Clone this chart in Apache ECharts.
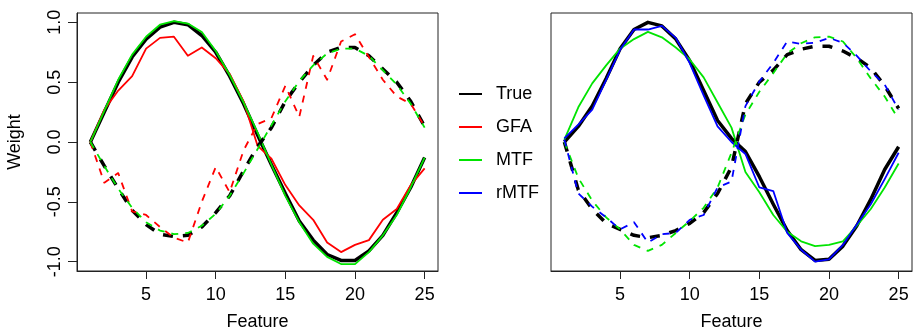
<!DOCTYPE html>
<html>
<head>
<meta charset="utf-8">
<script src="https://cdn.jsdelivr.net/npm/echarts@6/dist/echarts.min.js"></script>
<style>html,body{margin:0;padding:0;background:#fff}#c{width:913px;height:332px}</style>
</head>
<body>
<div id="c"></div>
<script>
const features = [1,2,3,4,5,6,7,8,9,10,11,12,13,14,15,16,17,18,19,20,21,22,23,24,25];
const xTicks = [5,10,15,20,25];
const yTicks = [-1,-0.5,0,0.5,1];
const yTickLabels = ['-1.0','-0.5','0.0','0.5','1.0'];
const legendNames = ['True','GFA','MTF','rMTF'];

// left panel
const trueSolidL = [0,0.25,0.50,0.71,0.86,0.96,1.0,0.98,0.89,0.75,0.55,0.32,0.06,-0.19,-0.43,-0.66,-0.82,-0.94,-0.99,-0.99,-0.91,-0.78,-0.59,-0.38,-0.13];
const gfaSolidL  = [0,0.27,0.43,0.55,0.78,0.87,0.88,0.72,0.79,0.70,0.57,0.34,-0.03,-0.14,-0.36,-0.53,-0.65,-0.84,-0.92,-0.86,-0.82,-0.65,-0.56,-0.36,-0.22];
const mtfSolidL  = [0,0.26,0.52,0.73,0.88,0.98,1.01,0.99,0.92,0.76,0.56,0.33,0.08,-0.19,-0.45,-0.67,-0.85,-0.96,-1.02,-1.02,-0.92,-0.78,-0.61,-0.38,-0.13];
const trueDashL  = [0,-0.20,-0.39,-0.57,-0.69,-0.77,-0.79,-0.78,-0.71,-0.59,-0.45,-0.24,-0.04,0.12,0.34,0.50,0.64,0.75,0.79,0.79,0.72,0.61,0.50,0.34,0.13];
const gfaDashL   = [0,-0.34,-0.26,-0.58,-0.61,-0.71,-0.80,-0.84,-0.50,-0.21,-0.42,-0.07,0.15,0.20,0.47,0.21,0.72,0.52,0.84,0.90,0.71,0.52,0.38,0.32,0.13];
const mtfDashL   = [0,-0.20,-0.39,-0.55,-0.67,-0.74,-0.77,-0.76,-0.70,-0.60,-0.45,-0.26,-0.06,0.14,0.34,0.51,0.64,0.74,0.78,0.78,0.72,0.60,0.48,0.32,0.12];

// right panel
const trueSolidR = [0,0.13,0.30,0.53,0.78,0.94,1.0,0.97,0.86,0.68,0.43,0.18,0.03,-0.08,-0.29,-0.52,-0.74,-0.90,-0.99,-0.98,-0.87,-0.70,-0.48,-0.23,-0.04];
const mtfSolidR  = [0.02,0.29,0.49,0.64,0.78,0.86,0.92,0.875,0.79,0.69,0.54,0.33,0.12,-0.25,-0.42,-0.61,-0.75,-0.83,-0.87,-0.86,-0.83,-0.70,-0.56,-0.38,-0.18];
const rmtfSolidR = [0.03,0.145,0.27,0.52,0.77,0.94,0.94,0.97,0.87,0.66,0.39,0.13,0.0,-0.10,-0.38,-0.41,-0.76,-0.90,-1.0,-0.98,-0.86,-0.69,-0.52,-0.31,-0.09];
const trueDashR  = [0,-0.40,-0.56,-0.68,-0.73,-0.78,-0.80,-0.78,-0.74,-0.68,-0.59,-0.43,-0.21,0.32,0.50,0.60,0.73,0.775,0.80,0.80,0.76,0.70,0.62,0.47,0.28];
const mtfDashR   = [0,-0.30,-0.49,-0.63,-0.73,-0.86,-0.91,-0.86,-0.76,-0.66,-0.55,-0.38,-0.09,0.23,0.42,0.575,0.74,0.825,0.875,0.88,0.84,0.70,0.53,0.38,0.19];
const rmtfDashR  = [0.02,-0.43,-0.54,-0.63,-0.73,-0.67,-0.84,-0.77,-0.76,-0.65,-0.61,-0.38,-0.33,0.30,0.505,0.66,0.84,0.82,0.83,0.87,0.83,0.72,0.59,0.48,0.27];

const FONT = 'Liberation Sans, Arial, Helvetica, sans-serif';
const COL = {True:'#000000', GFA:'#ff0000', MTF:'#00e400', rMTF:'#0000ff'};

function pts(arr){ return features.map((f,i)=>[f, arr[i]]); }
function mk(name, arr, gi, dashed){
  const thick = name === 'True';
  return {
    type:'line', name, xAxisIndex:gi, yAxisIndex:gi, data:pts(arr),
    symbol:'none', showSymbol:false, silent:true, animation:false,
    lineStyle:{color:COL[name], width: thick?3.5:1.8,
      type: dashed ? (thick?[10,10]:[7,7]) : 'solid', cap:'butt', join:'round'},
    itemStyle:{color:COL[name]}
  };
}

function xAx(gi){
  return {
    type:'value', gridIndex:gi, min:0.04, max:25.96,
    name:'Feature', nameLocation:'middle', nameGap:42,
    nameTextStyle:{fontFamily:FONT, fontSize:18, color:'#000'},
    axisLine:{show:true, onZero:false, lineStyle:{color:'#222', width:1}}, splitLine:{show:false},
    axisTick:{show:true, inside:false, length:8, customValues:xTicks, lineStyle:{color:'#222', width:1}},
    axisLabel:{show:true, customValues:xTicks, margin:15, fontFamily:FONT, fontSize:18, color:'#000'}
  };
}

const option = {
  backgroundColor:'#fff',
  animation:false,
  grid:[
    {left:77, top:13, width:361, height:258, show:true, borderColor:'#222', borderWidth:1, backgroundColor:'transparent', outerBoundsMode:'none', containLabel:false},
    {left:551, top:13, width:361, height:258, show:true, borderColor:'#222', borderWidth:1, backgroundColor:'transparent', outerBoundsMode:'none', containLabel:false}
  ],
  xAxis:[xAx(0), xAx(1)],
  yAxis:[
    {type:'value', gridIndex:0, min:-1.078, max:1.078,
     name:'Weight', nameLocation:'middle', nameGap:53, nameRotate:90,
     nameTextStyle:{fontFamily:FONT, fontSize:18, color:'#000'},
     axisLine:{show:true, onZero:false, lineStyle:{color:'#222', width:1}}, splitLine:{show:false},
     axisTick:{show:true, length:9, customValues:yTicks, lineStyle:{color:'#222', width:1}},
     axisLabel:{show:true, customValues:yTicks, rotate:90, margin:13, fontFamily:FONT, fontSize:18, color:'#000',
       formatter:(v)=>{ const k = yTicks.findIndex(t=>Math.abs(t-v)<1e-9); return k>=0 ? yTickLabels[k] : ''; }}
    },
    {type:'value', gridIndex:1, min:-1.078, max:1.078, show:false,
     axisLine:{show:false, onZero:false}, axisTick:{show:false}, axisLabel:{show:false}, splitLine:{show:false}}
  ],
  legend:{
    data:legendNames, orient:'vertical', left:453, top:80, itemWidth:23, itemHeight:14, itemGap:15,
    itemStyle:{opacity:0, borderWidth:0},
    textStyle:{fontFamily:FONT, fontSize:18, color:'#000', padding:[0,0,0,9]},
    selectedMode:false
  },
  series:[
    mk('True', trueSolidL, 0, false),
    mk('GFA', gfaSolidL, 0, false),
    mk('MTF', mtfSolidL, 0, false),
    mk('True', trueDashL, 0, true),
    mk('GFA', gfaDashL, 0, true),
    mk('MTF', mtfDashL, 0, true),
    mk('True', trueSolidR, 1, false),
    mk('MTF', mtfSolidR, 1, false),
    mk('rMTF', rmtfSolidR, 1, false),
    mk('True', trueDashR, 1, true),
    mk('MTF', mtfDashR, 1, true),
    mk('rMTF', rmtfDashR, 1, true)
  ]
};
const chart = echarts.init(document.getElementById('c'), null, {renderer:'canvas'});
chart.setOption(option);
</script>
</body>
</html>
